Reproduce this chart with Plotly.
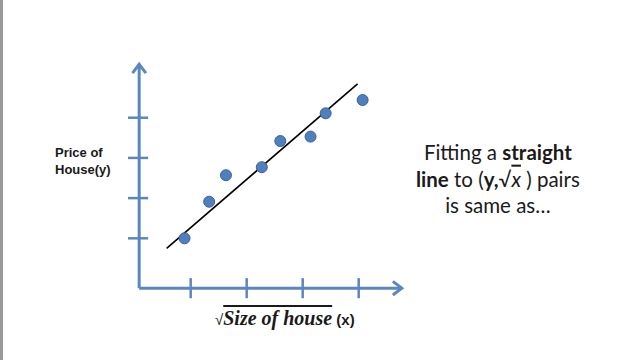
import plotly.graph_objects as go

# Data (in tick units)
x_pts = [0.89, 1.33, 1.63, 2.27, 2.60, 3.14, 3.41, 4.07]
y_pts = [1.00, 1.91, 2.57, 2.77, 3.42, 3.53, 4.11, 4.44]
fit_x = [0.57, 3.98]
fit_y = [0.75, 4.84]
x_ticks = [1, 2, 3, 4]
y_ticks = [1, 2, 3, 4]

AX = "#5b87bf"
x0, y0 = 0.08, -0.24      # axis origin
x_end, y_end = 4.77, 5.33  # arrow tips

fig = go.Figure()

# axes
fig.add_trace(go.Scatter(x=[x0, x0, None, x0, x_end], y=[y_end, y0, None, y0, y0],
                         mode="lines", line=dict(color=AX, width=3), hoverinfo="skip"))
# arrow heads
fig.add_trace(go.Scatter(x=[x0 - 0.12, x0, x0 + 0.12, None, x_end - 0.16, x_end, x_end - 0.16],
                         y=[y_end - 0.22, y_end, y_end - 0.22, None, y0 + 0.17, y0, y0 - 0.17],
                         mode="lines", line=dict(color=AX, width=3), hoverinfo="skip"))
# ticks
tx, ty = [], []
for t in x_ticks:
    tx += [t, t, None]
    ty += [y0 + 0.25, y0 - 0.25, None]
for t in y_ticks:
    tx += [x0 - 0.2, x0 + 0.16, None]
    ty += [t, t, None]
fig.add_trace(go.Scatter(x=tx, y=ty, mode="lines", line=dict(color=AX, width=2.5), hoverinfo="skip"))

# fit line
fig.add_trace(go.Scatter(x=fit_x, y=fit_y, mode="lines", line=dict(color="black", width=1.6)))
# points
fig.add_trace(go.Scatter(x=x_pts, y=y_pts, mode="markers",
                         marker=dict(size=11, color="#4f7fbe", line=dict(color="#3a6397", width=1))))

fig.add_annotation(xref="paper", yref="paper", x=53/640, y=1 - 161/360, xanchor="left", yanchor="middle",
                   text="<b>Price of<br>House(y)</b>", showarrow=False, align="left",
                   font=dict(family="Liberation Sans", size=13, color="#1a1a1a"))

fig.add_annotation(xref="paper", yref="paper", x=498/640, y=1 - 178/360, xanchor="center", yanchor="middle",
                   text="Fitting a <b>straight</b><br><b>line</b> to (<b>y,</b>√<span style='text-decoration:overline'><i>x</i></span> ) pairs<br>is same as…",
                   showarrow=False, align="center",
                   font=dict(family="Lato", size=20.5, color="#1a1a1a"))

fig.add_annotation(xref="paper", yref="paper", x=285/640, y=1 - 318/360, xanchor="center", yanchor="middle",
                   text="√<span style='text-decoration:overline;font-family:Liberation Serif;font-size:20px'><b><i>Size of house</i></b></span> <b>(x)</b>",
                   showarrow=False, font=dict(family="Liberation Sans", size=15, color="#1a1a1a"))

# left edge gray strip
fig.add_shape(type="rect", xref="paper", yref="paper", x0=0, x1=3/640, y0=0, y1=1,
              fillcolor="#9a9a9a", line=dict(width=0), layer="below")

fig.update_layout(
    width=640, height=360, margin=dict(l=0, r=0, t=0, b=0),
    plot_bgcolor="white", paper_bgcolor="white", showlegend=False,
    xaxis=dict(range=[-2.405, 9.023], visible=False, fixedrange=True),
    yaxis=dict(range=[-2.027, 6.928], visible=False, fixedrange=True),
)

fig.write_html("out.html")
